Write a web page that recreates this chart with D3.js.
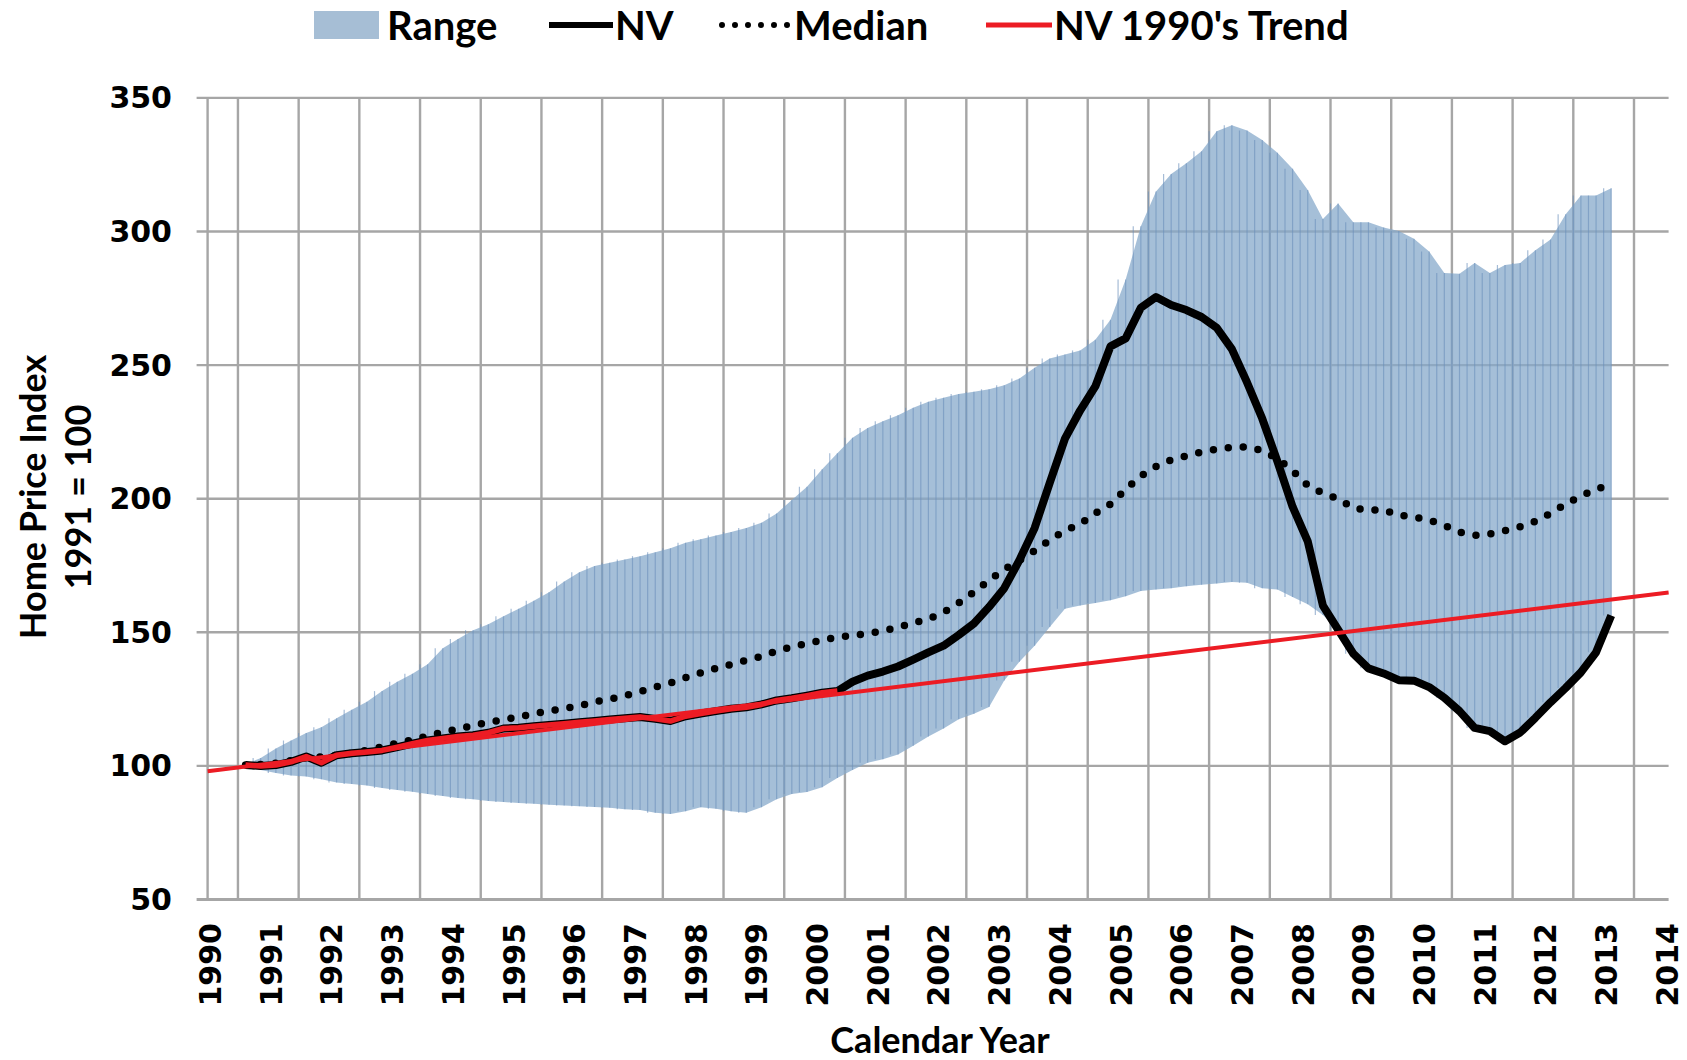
<!DOCTYPE html>
<html>
<head>
<meta charset="utf-8">
<script src="https://cdn.jsdelivr.net/npm/d3@7"></script>
<style>
  body { margin: 0; background: #fff; }
  svg { display: block; }
</style>
</head>
<body>
<svg id="chart"></svg>
<script>
// quarterly series, first quarter is 1990 Q3, last is 2013 Q1
const firstYear = 1990, firstQ = 3;

const nv = [
  100.3, 100, 100.3, 101.5, 103.5, 101.2, 104, 104.7, 105.2, 105.8,
  107, 108.3, 109.5, 110.3, 111, 111.5, 112.4, 114, 114.3, 114.8,
  115.3, 115.8, 116.3, 116.8, 117.4, 117.8, 118.3, 117.6, 116.8, 118.6,
  119.6, 120.5, 121.4, 121.9, 123, 124.5, 125.3, 126.3, 127.4, 128,
  131.5, 133.8, 135.3, 137.2, 139.8, 142.5, 145, 149, 153.3, 159.5,
  166.5, 177, 189, 206, 222.5, 233, 242, 257, 260, 271.5,
  275.5, 272.5, 270.6, 268, 264, 256, 243.5, 230, 214, 197,
  184, 160, 151, 142, 136.5, 134.6, 132.1, 131.9, 129.5, 125.5,
  120.5, 114.2, 113, 109.2, 112.5, 118, 123.8, 129.2, 135, 142.5,
  156.3
];

const median = [
  100.3, 100.5, 101, 102, 103, 103.4, 104, 104.7, 105.8, 107.2,
  108.5, 109.7, 111.2, 112.6, 113.8, 115.1, 116.3, 117.3, 118.3, 119.6,
  120.6, 121.5, 122.5, 124, 125, 126.3, 127.8, 129.5, 131, 133,
  134.8, 136.5, 138, 139.5, 141, 143, 144.5, 145.8, 147, 148.2,
  148.8, 149.5, 150.5, 151.8, 153.5, 155, 157.5, 161, 165, 169.5,
  173.5, 177, 180.5, 184.5, 188, 190.5, 194.5, 198, 203.5, 208.5,
  212, 214.5, 216, 217.5, 218.5, 219.3, 219.4, 218, 215, 210.5,
  205, 202, 200, 196.5, 195.7, 195.8, 193.8, 193.2, 192, 190,
  187.5, 186.3, 186.8, 188, 189.5, 191.5, 194.5, 198, 201, 203.5,
  205.5
];

const rangeLow = [
  99.8, 98.5, 97.3, 96.4, 96, 95, 93.8, 93.2, 92.7, 91.7,
  91, 90.3, 89.5, 88.7, 88, 87.5, 86.9, 86.5, 86.1, 85.8,
  85.5, 85.2, 84.9, 84.6, 84.3, 83.8, 83.5, 82.5, 82, 83,
  84.5, 84, 83, 82.5, 84.5, 87.5, 89.5, 90.2, 92, 95.5,
  98.5, 101.2, 102.5, 104.3, 107.5, 111, 114, 117.5, 119.5, 122,
  132, 139, 145, 152, 158.8, 160, 161, 162, 163.5, 165.5,
  166, 166.5, 167.2, 167.8, 168.3, 168.8, 168.5, 166.5, 166, 163.2,
  160.5, 156.5, 151, 142, 136.5, 134.6, 132.1, 131.9, 129.5, 125.5,
  120.5, 114.2, 113, 109.2, 112.5, 118, 123.8, 129.2, 135, 142.5,
  156.3
];

const rangeHigh = [
  100.5, 103, 106.5, 109.5, 112.3, 114.5, 117.8, 121, 124, 128,
  131.5, 134.5, 138, 144, 147.5, 150.8, 153, 156, 158.8, 161.8,
  165, 169, 172.5, 174.8, 176, 177.2, 178.5, 180, 181.5, 183.5,
  184.8, 186.2, 187.5, 189, 191, 194.5, 199.5, 204.5, 211, 217,
  222.8, 226.5, 229, 231.2, 234, 236.3, 237.8, 239.2, 240, 241,
  242.5, 245, 249, 252.5, 254, 255.5, 259.5, 267, 282, 302,
  315, 321.5, 325.5, 330, 337.5, 339.8, 337.8, 334.2, 329.5, 323.5,
  315.5, 304.7, 310.5, 303.5, 303.5, 301.5, 300.2, 297.3, 292.5, 284.5,
  284.2, 288.2, 284.5, 287.5, 288.2, 293, 297, 306.5, 313.5, 313.5,
  316.2
];

// NV 1990's trend line, fitted on the 1990's
const trendYears = [1990, 2014.07];
const trendValues = [98, 164.9];
const nvRedLast = 39;   // last quarter of the NV line drawn in red

const yTicks = [50, 100, 150, 200, 250, 300, 350];
const yearLabels = d3.range(1990, 2015);
const legendLabels = ["Range", "NV", "Median", "NV 1990's Trend"];

const width = 1687, height = 1060;
const margin = { top: 97.9, right: 18.4, bottom: 160.5, left: 207.6 };

const svg = d3.select('#chart')
  .attr('width', width)
  .attr('height', height);

const x = d3.scaleLinear().domain([1990, 2014.07]).range([margin.left, width - margin.right]);
const y = d3.scaleLinear().domain([50, 350]).range([height - margin.bottom, margin.top]);

// quarter -> decimal year at middle of quarter
const data = nv.map((v, i) => {
  const qi = (firstQ - 1) + i;
  const yr = firstYear + Math.floor(qi / 4);
  const q = qi % 4 + 1;
  return {
    label: yr + ' Q' + q,
    t: yr + (q - 1) / 4 + 0.125,
    nv: v, median: median[i], low: rangeLow[i], high: rangeHigh[i]
  };
});

const grid = svg.append('g');
const gridColor = '#a6a6a6';

// horizontal grid
grid.selectAll('line.h').data(yTicks).enter().append('line')
  .attr('x1', x(1990) - 11).attr('x2', x.range()[1])
  .attr('y1', d => y(d)).attr('y2', d => y(d))
  .attr('stroke', gridColor).attr('stroke-width', d => d === 50 ? 3 : 2.4);

// vertical grid: left edge, then between the year labels
const vLines = [1990].concat(d3.range(1990.5, 2014, 1));
grid.selectAll('line.v').data(vLines).enter().append('line')
  .attr('x1', d => x(d)).attr('x2', d => x(d))
  .attr('y1', y(350)).attr('y2', y(50))
  .attr('stroke', gridColor).attr('stroke-width', 2.4);

svg.append('clipPath').attr('id', 'plotclip')
  .append('rect')
  .attr('x', x(1990)).attr('y', y(350))
  .attr('width', x.range()[1] - x(1990)).attr('height', y(50) - y(350));

const plot = svg.append('g').attr('clip-path', 'url(#plotclip)');

// range band
const area = d3.area()
  .x(d => x(d.t))
  .y0(d => y(d.low))
  .y1(d => y(d.high));

plot.append('path')
  .datum(data)
  .attr('d', area)
  .attr('fill', '#86a8cb')
  .attr('fill-opacity', 0.74);

// column edges inside the band
const hatch = [];
data.forEach(d => {
  hatch.push({ t: d.t - 0.125, low: d.low, high: d.high });
  hatch.push({ t: d.t, low: d.low, high: d.high });
});
plot.selectAll('line.hatch').data(hatch.slice(1)).enter().append('line')
  .attr('x1', d => x(d.t)).attr('x2', d => x(d.t))
  .attr('y1', d => y(d.low)).attr('y2', d => y(d.high))
  .attr('stroke', '#6a8fbb').attr('stroke-opacity', 0.6).attr('stroke-width', 1.2);

const line = key => d3.line().x(d => x(d.t)).y(d => y(d[key]));

// median dotted
plot.append('path')
  .datum(data)
  .attr('d', line('median'))
  .attr('fill', 'none')
  .attr('stroke', '#000')
  .attr('stroke-width', 7.5)
  .attr('stroke-linecap', 'round')
  .attr('stroke-dasharray', '0 15');

// NV
plot.append('path')
  .datum(data)
  .attr('d', line('nv'))
  .attr('fill', 'none')
  .attr('stroke', '#000')
  .attr('stroke-width', 8)
  .attr('stroke-linejoin', 'round');

// NV during the 1990's in red
plot.append('path')
  .datum(data.slice(0, nvRedLast + 1))
  .attr('d', line('nv'))
  .attr('fill', 'none')
  .attr('stroke', '#ec1c24')
  .attr('stroke-width', 5.5)
  .attr('stroke-linejoin', 'round');

// 1990's trend
svg.append('path')
  .datum(trendYears.map((t, i) => ({ t: t, v: trendValues[i] })))
  .attr('d', d3.line().x(d => x(d.t)).y(d => y(d.v)))
  .attr('fill', 'none')
  .attr('stroke', '#ec1c24')
  .attr('stroke-width', 4);

// y tick labels
svg.selectAll('text.ytick').data(yTicks).enter().append('text')
  .attr('x', 172).attr('y', d => y(d))
  .attr('text-anchor', 'end')
  .attr('dominant-baseline', 'central')
  .style('font-family', '"DejaVu Sans", sans-serif')
  .style('font-weight', 'bold')
  .style('font-size', '30px')
  .text(d => d);

// x tick labels
svg.selectAll('text.xtick').data(yearLabels).enter().append('text')
  .attr('transform', d => `translate(${x(d) + 3},923) rotate(-90)`)
  .attr('text-anchor', 'end')
  .attr('dominant-baseline', 'central')
  .style('font-family', '"DejaVu Sans", sans-serif')
  .style('font-weight', 'bold')
  .style('font-size', '30px')
  .text(d => d);

const titleFont = 'Lato, "Liberation Sans", sans-serif';

svg.append('text')
  .attr('x', 940).attr('y', 1039)
  .attr('text-anchor', 'middle')
  .attr('dominant-baseline', 'central')
  .style('font-family', titleFont).style('font-weight', 'bold').style('font-size', '36px')
  .text('Calendar Year');

const ytitle = svg.append('g').attr('transform', 'translate(0,497)');
[['Home Price Index', 32], ['1991 = 100', 77]].forEach(([s, px]) => {
  ytitle.append('text')
    .attr('transform', `translate(${px},0) rotate(-90)`)
    .attr('text-anchor', 'middle')
    .attr('dominant-baseline', 'central')
    .style('font-family', titleFont).style('font-weight', 'bold').style('font-size', '36px')
    .text(s);
});

// legend
const legend = svg.append('g').attr('transform', 'translate(0,25)');
const legendFont = s => s.style('font-family', titleFont).style('font-weight', 'bold')
  .style('font-size', '40px').attr('dominant-baseline', 'central');

legend.append('rect').attr('x', 314).attr('y', -14).attr('width', 65).attr('height', 28)
  .attr('fill', '#a6bed5');
legend.append('text').attr('x', 387).attr('y', 0).call(legendFont).text(legendLabels[0]);

legend.append('line').attr('x1', 549).attr('x2', 613).attr('y1', 0).attr('y2', 0)
  .attr('stroke', '#000').attr('stroke-width', 6);
legend.append('text').attr('x', 615).attr('y', 0).call(legendFont).text(legendLabels[1]);

legend.append('line').attr('x1', 722).attr('x2', 792).attr('y1', 0).attr('y2', 0)
  .attr('stroke', '#000').attr('stroke-width', 6)
  .attr('stroke-linecap', 'round').attr('stroke-dasharray', '0 13');
legend.append('text').attr('x', 794).attr('y', 0).call(legendFont).text(legendLabels[2]);

legend.append('line').attr('x1', 986).attr('x2', 1052).attr('y1', 0).attr('y2', 0)
  .attr('stroke', '#ec1c24').attr('stroke-width', 5);
legend.append('text').attr('x', 1054).attr('y', 0).call(legendFont).text(legendLabels[3]);
</script>
</body>
</html>
